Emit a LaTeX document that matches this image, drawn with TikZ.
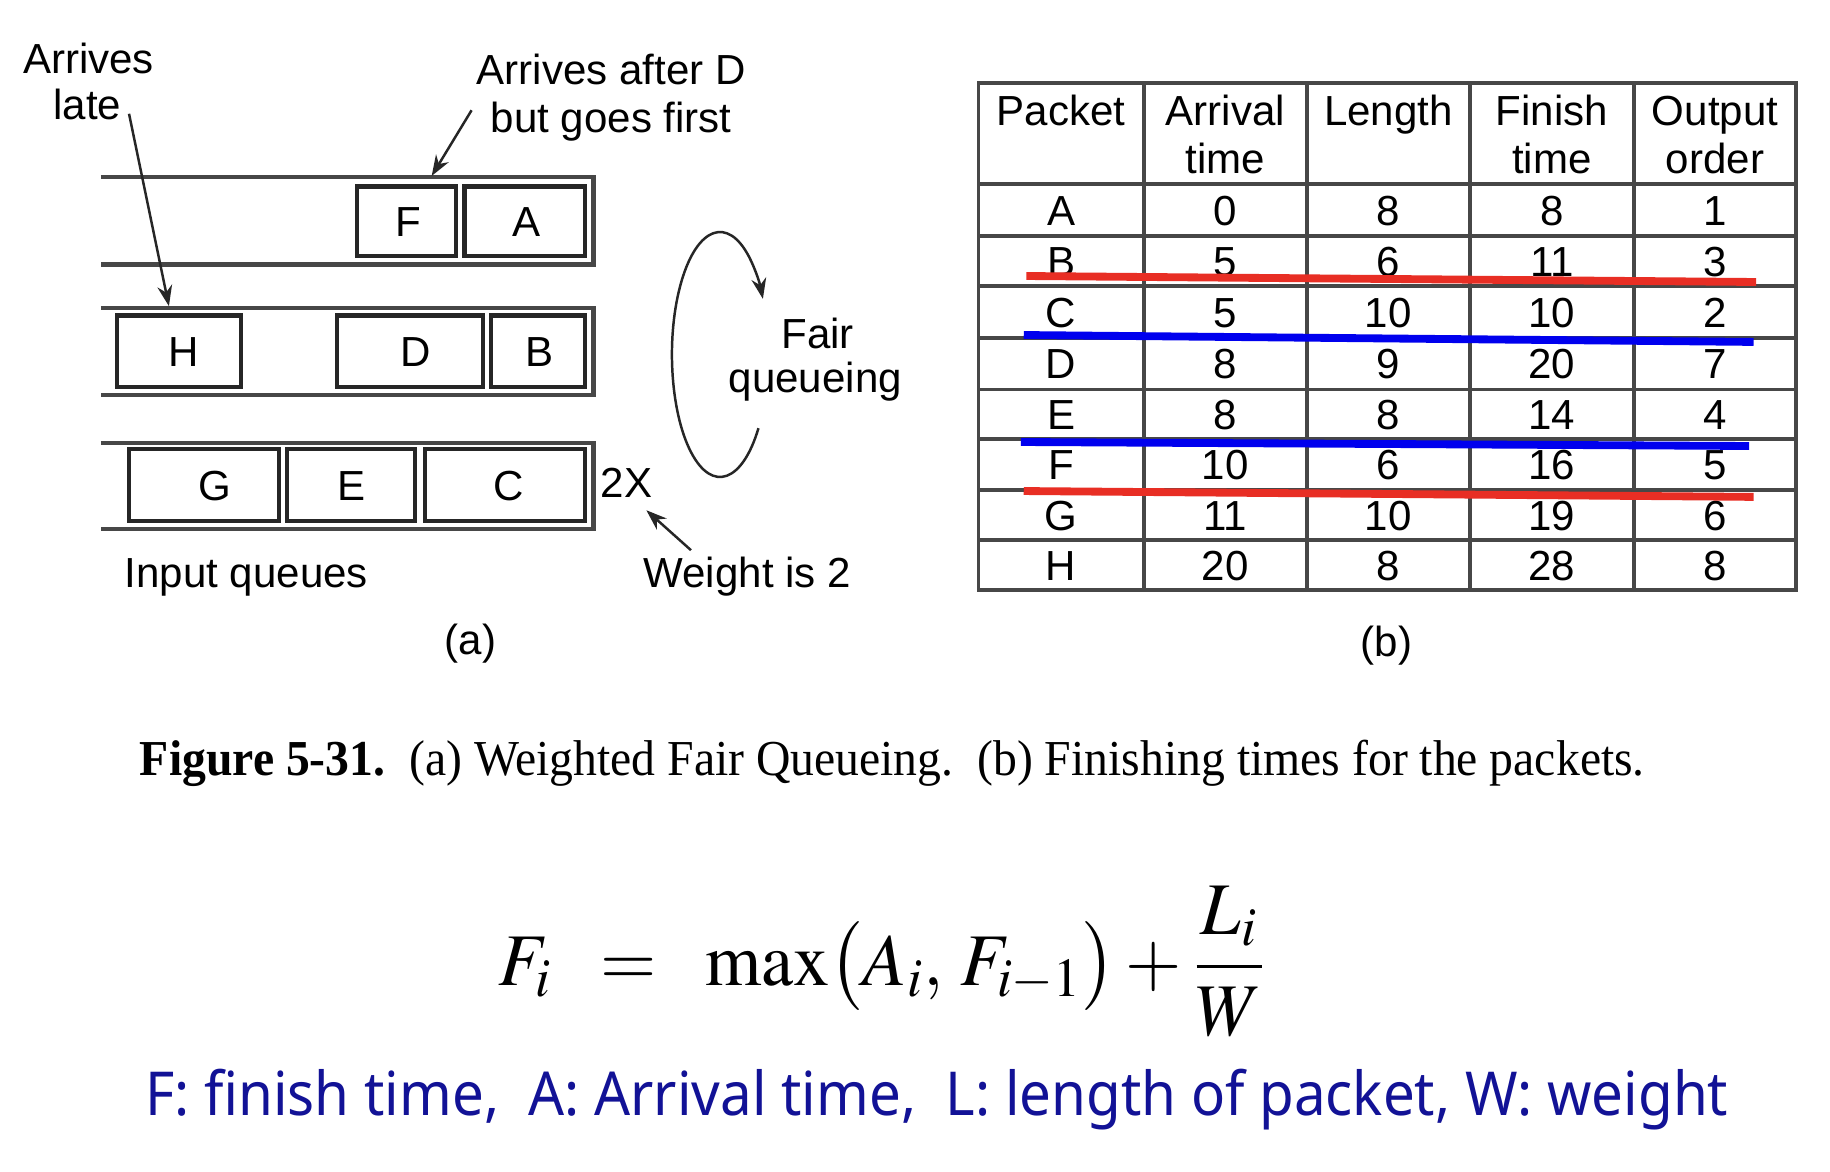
\documentclass[tikz,border=0pt]{standalone}
\usepackage{mathptmx}
\usepackage{fontspec}
\setmainfont{Liberation Sans}
\newfontfamily\capfont{Liberation Serif}
\newfontfamily\notefont{Noto Sans}
\usepackage{graphicx}
\usetikzlibrary{arrows.meta}
\definecolor{strikered}{RGB}{232,46,36}
\definecolor{strikeblue}{RGB}{0,0,238}
\definecolor{noteblue}{RGB}{18,18,150}
\tikzset{
  qline/.style={draw=black!72, line width=1.1pt},
  pkt/.style={draw=black!85, line width=1pt, inner sep=0pt},
  lbl/.style={font=\fontsize{10.2}{12}\selectfont, inner sep=0pt, text height=7.3pt, text depth=0pt},
  arr/.style={-{Stealth[length=5pt,width=3.6pt]}, line width=0.6pt, black!85},
  tline/.style={draw=black!72, line width=0.9pt},
  strike/.style={line width=1.9pt, line cap=butt},
}
\begin{document}
\begin{tikzpicture}[x=0.1mm,y=-0.1mm]
\useasboundingbox (0,0) rectangle (1560,999);
\fill[white] (0,0) rectangle (1560,999);

% ---------- (a) input queues ----------
\draw[qline] (86,151) -- (506,151) -- (506,225.5) -- (86,225.5);
\draw[qline] (86,262.5) -- (506,262.5) -- (506,336.6) -- (86,336.6);
\draw[qline] (86,377.6) -- (506,377.6) -- (506,451) -- (86,451);

\node[pkt, minimum width=8.5mm, minimum height=5.9mm, label={[lbl,xshift=0.15mm]center:F}] (F) at (346.5,188.5) {};
\node[pkt, minimum width=10.26mm, minimum height=5.9mm, label={[lbl,xshift=0.13mm]center:A}] (A) at (447.3,188.5) {};
\node[pkt, minimum width=10.6mm, minimum height=6.1mm, label={[lbl,xshift=0.45mm]center:H}] (H) at (152.5,299.5) {};
\node[pkt, minimum width=12.4mm, minimum height=6.1mm, label={[lbl,xshift=0.5mm]center:D}] (D) at (349.5,299.5) {};
\node[pkt, minimum width=8.03mm, minimum height=6.1mm, label={[lbl,xshift=0.15mm]center:B}] (B) at (458.5,299.5) {};
\node[pkt, minimum width=12.8mm, minimum height=6.1mm, label={[lbl,xshift=0.9mm]center:G}] (G) at (174,413.5) {};
\node[pkt, minimum width=10.9mm, minimum height=6.1mm, label={[lbl]center:E}] (E) at (299.4,413.5) {};
\node[pkt, minimum width=13.6mm, minimum height=6.1mm, label={[lbl,xshift=0.35mm]center:C}] (C) at (430.5,413.5) {};

\node[lbl] (arr1) at (75.5,50) {Arrives};
\node[lbl] (late) at (74.5,89) {late};
\node[lbl] (aft1) at (521,59) {Arrives after D};
\node[lbl] (aft2) at (521,100) {but goes first};
\node[lbl] (twox) at (534,411) {2X};
\node[lbl] (wt) at (637,488) {Weight is 2};
\node[lbl] (inq) at (210,488) {Input queues};
\node[lbl] (fair) at (697,284) {Fair};
\node[lbl] (fq) at (695,322) {queueing};
\node[lbl] (cap-a) at (401,545) {(a)};

\coordinate (lateTail) at (110,97);
\coordinate (lateHead) at (144,261);
\coordinate (aftTail) at (402,94);
\coordinate (aftHead) at (368,150);
\coordinate (wtTail) at (589,469);
\coordinate (wtHead) at (551,435);
\draw[arr] (lateTail) -- (lateHead);
\draw[arr] (aftTail) -- (aftHead);
\draw[arr] (wtTail) -- (wtHead);

% fair queueing loop
\coordinate (loop) at (613.8,302.2);
\draw[arr] (loop) ++(37:41 and 104.4) arc[start angle=37, end angle=333, x radius=41, y radius=104.4];

% ---------- (b) table ----------
\draw[tline] (834,71) rectangle (1531,503);
\foreach \x in {975,1114,1253,1393} \draw[tline] (\x,71) -- (\x,503);
\foreach \y in {157,201,244,288,332,374,417.5,460.5} \draw[tline] (834,\y) -- (1531,\y);

\node[lbl] (h1) at (904.5,94) {Packet};
\node[lbl] (h2a) at (1044.5,94) {Arrival};
\node[lbl] (h2b) at (1044.5,135) {time};
\node[lbl] (h3) at (1183.5,94) {Length};
\node[lbl] (h4a) at (1323,94) {Finish};
\node[lbl] (h4b) at (1323,135) {time};
\node[lbl] (h5a) at (1462,94) {Output};
\node[lbl] (h5b) at (1462,135) {order};

\foreach \p/\a/\l/\f/\o/\y in {A/0/8/8/1/179, B/5/6/11/3/222.5, C/5/10/10/2/266, D/8/9/20/7/310, E/8/8/14/4/353, F/10/6/16/5/395.7, G/11/10/19/6/439, H/20/8/28/8/481.7}{
  \node[lbl] at (904.5,\y) {\p};
  \node[lbl] at (1044.5,\y) {\a};
  \node[lbl] at (1183.5,\y) {\l};
  \node[lbl] at (1323,\y) {\f};
  \node[lbl] at (1462,\y) {\o};
}

\draw[strike, strikered] (875,235.3) -- (1497,240.4);
\draw[strike, strikeblue] (872.7,285.6) -- (1494.8,291.5);
\draw[strike, strikeblue] (870.3,376.8) -- (1491,380.2);
\draw[strike, strikered] (872.7,418.6) -- (1494.8,423.6);

\node[lbl] (cap-b) at (1182,547) {(b)};

% ---------- caption ----------
\node[anchor=base west, inner sep=0pt] (caption) at (118.6,661)
  {\resizebox{365pt}{\height}{\capfont\fontsize{12.2}{14}\selectfont\textbf{Figure 5-31.}\ \ (a) Weighted Fair Queueing.\ \ (b) Finishing times for the packets.}};

% ---------- formula ----------
\node[inner sep=0pt] (formula) at (752.5,820)
  {\resizebox{186.4pt}{\height}{\fontsize{18}{22}\selectfont$\displaystyle F_i \;\;=\;\; \max\bigl(A_i,\, F_{i-1}\bigr) + \frac{L_i}{W}$}};

% ---------- legend ----------
\node[anchor=base west, inner sep=0pt, text=noteblue] (legend) at (123,950.5)
  {\resizebox{384pt}{\height}{\notefont\fontsize{14.7}{17}\selectfont F: finish time,\ \ A: Arrival time,\ \ L: length of packet, W: weight}};
\end{tikzpicture}
\end{document}
